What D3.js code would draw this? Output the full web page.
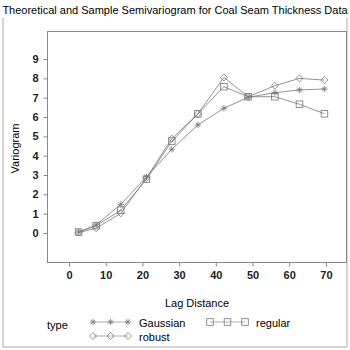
<!DOCTYPE html>
<html>
<head>
<meta charset="utf-8">
<script src="https://cdn.jsdelivr.net/npm/d3@7"></script>
<style>
  html, body { margin: 0; padding: 0; background: #fff; }
  svg { display: block; font-family: "Liberation Sans", Arial, sans-serif; }
</style>
</head>
<body>
<div id="chart"></div>
<script>
const lags = [2.6, 7.4, 14.1, 21.1, 28, 35.1, 42.2, 48.8, 56.1, 62.8, 69.6];
const gaussian = [0.05, 0.42, 1.48, 2.9, 4.33, 5.59, 6.45, 7.02, 7.26, 7.4, 7.45];
const robust = [0.02, 0.25, 1.02, 2.85, 4.88, 6.16, 8.05, 7.05, 7.62, 8.0, 7.91];
const regular = [0.05, 0.38, 1.18, 2.78, 4.75, 6.16, 7.57, 7.05, 7.05, 6.66, 6.17];
const xTicks = [0, 10, 20, 30, 40, 50, 60, 70];
const yTicks = [0, 1, 2, 3, 4, 5, 6, 7, 8, 9];

const W = 350, H = 350;
const plot = { left: 47, right: 347, top: 31, bottom: 262 };
const INK = "#777";
const FONT = "Liberation Sans, Arial, sans-serif";

const svg = d3.select("#chart").append("svg").attr("width", W).attr("height", H);

const x = d3.scaleLinear().domain([-6, 75.75]).range([plot.left, plot.right]);
const y = d3.scaleLinear().domain([-1.5, 10.45]).range([plot.bottom, plot.top]);

// outer border
svg.append("path")
    .attr("d", `M3,18V347H347V18`)
    .attr("fill", "none").attr("stroke", "#aaa").attr("stroke-width", 1);

svg.append("text")
    .attr("x", 175).attr("y", 14)
    .attr("text-anchor", "middle")
    .attr("font-size", 11)
    .text("Theoretical and Sample Semivariogram for Coal Seam Thickness Data");

// frame
svg.append("rect")
    .attr("x", plot.left + 0.5).attr("y", plot.top + 0.5)
    .attr("width", plot.right - plot.left - 1).attr("height", plot.bottom - plot.top)
    .attr("fill", "none").attr("stroke", "#888");

svg.append("g").attr("transform", `translate(0,${plot.bottom + 0.5})`)
    .call(d3.axisBottom(x).tickValues(xTicks).tickSize(4).tickPadding(5))
    .call(g => g.select(".domain").remove())
    .call(g => g.selectAll("line").attr("stroke", "#888"))
    .call(g => g.selectAll("text").attr("font-size", 11).attr("font-weight", "bold")
        .attr("fill", "#222").attr("font-family", FONT));

svg.append("g").attr("transform", `translate(${plot.left + 0.5},0)`)
    .call(d3.axisLeft(y).tickValues(yTicks).tickSize(4).tickPadding(5))
    .call(g => g.select(".domain").remove())
    .call(g => g.selectAll("line").attr("stroke", "#888"))
    .call(g => g.selectAll("text").attr("font-size", 11).attr("font-weight", "bold")
        .attr("fill", "#222").attr("font-family", FONT));

svg.append("text")
    .attr("transform", `translate(19,${(plot.top + plot.bottom) / 2 + 2}) rotate(-90)`)
    .attr("text-anchor", "middle").attr("font-size", 11)
    .text("Variogram");

svg.append("text")
    .attr("x", (plot.left + plot.right) / 2).attr("y", 307)
    .attr("text-anchor", "middle").attr("font-size", 11)
    .text("Lag Distance");

// markers
function drawMarker(g, type, cx, cy) {
    if (type === "star") {
        const r = 3.2;
        g.append("path")
            .attr("d", `M${cx - r},${cy}H${cx + r}M${cx},${cy - r}V${cy + r}` +
                `M${cx - r * 0.7},${cy - r * 0.7}L${cx + r * 0.7},${cy + r * 0.7}` +
                `M${cx - r * 0.7},${cy + r * 0.7}L${cx + r * 0.7},${cy - r * 0.7}`)
            .attr("stroke", INK).attr("fill", "none").attr("stroke-width", 0.8);
    } else if (type === "diamond") {
        const r = 3.5;
        g.append("path")
            .attr("d", `M${cx},${cy - r}L${cx + r},${cy}L${cx},${cy + r}L${cx - r},${cy}Z`)
            .attr("stroke", INK).attr("fill", "none").attr("stroke-width", 0.8);
    } else {
        const r = 3.3;
        g.append("rect")
            .attr("x", cx - r).attr("y", cy - r).attr("width", 2 * r).attr("height", 2 * r)
            .attr("stroke", INK).attr("fill", "none").attr("stroke-width", 0.8);
    }
}

const seriesList = [
    { name: "Gaussian", values: gaussian, marker: "star" },
    { name: "robust", values: robust, marker: "diamond" },
    { name: "regular", values: regular, marker: "square" },
];

const line = d3.line().x(d => x(d[0])).y(d => y(d[1]));

seriesList.forEach(s => {
    const pts = lags.map((l, i) => [l, s.values[i]]);
    const g = svg.append("g");
    g.append("path").datum(pts)
        .attr("fill", "none").attr("stroke", INK).attr("stroke-width", 0.8)
        .attr("d", line);
    pts.forEach(p => drawMarker(g, s.marker, x(p[0]), y(p[1])));
});

// legend
const legend = svg.append("g").attr("font-size", 11);
legend.append("text").attr("x", 47).attr("y", 329).text("type");
const legendItems = [
    { s: seriesList[0], lx: 93, ly: 322 },
    { s: seriesList[2], lx: 210, ly: 322 },
    { s: seriesList[1], lx: 93, ly: 336 },
];
legendItems.forEach(it => {
    const g = legend.append("g");
    g.append("line").attr("x1", it.lx).attr("x2", it.lx + 35)
        .attr("y1", it.ly).attr("y2", it.ly)
        .attr("stroke", "#999").attr("stroke-width", 0.8);
    [0, 17.5, 35].forEach(dx => drawMarker(g, it.s.marker, it.lx + dx, it.ly));
    g.append("text").attr("x", it.lx + 46).attr("y", it.ly + 5).text(it.s.name);
});
</script>
</body>
</html>
